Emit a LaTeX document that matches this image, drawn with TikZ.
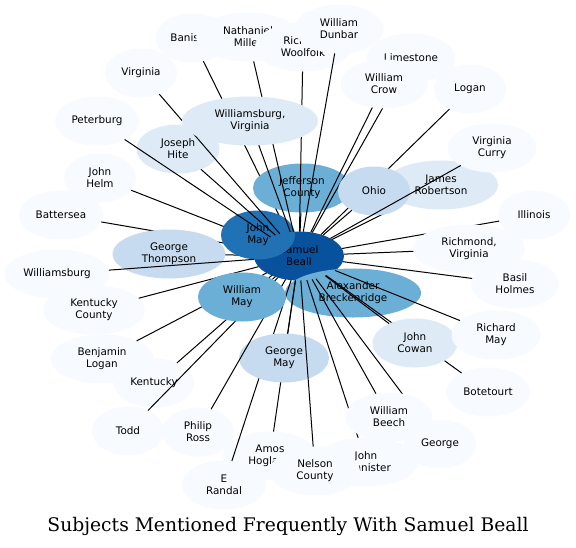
\documentclass[tikz,border=0pt]{standalone}
\usepackage{fontspec}
\usetikzlibrary{shapes.geometric}
\newfontfamily\labfont{DejaVu Sans}
\newfontfamily\ttlfont{DejaVu Serif}
\definecolor{cA}{HTML}{08519C}
\definecolor{cB}{HTML}{2171B5}
\definecolor{cC}{HTML}{6BAED6}
\definecolor{cD}{HTML}{C6DBEF}
\definecolor{cE}{HTML}{DEEBF7}
\definecolor{cF}{HTML}{F7FBFF}
\tikzset{
  ell/.style={ellipse, inner sep=0pt, outer sep=0pt, minimum height=49pt, draw=none,
    font=\labfont\fontsize{10.4}{12}\selectfont, align=center, text=black},
  edge/.style={draw=black, line width=1pt}
}
\begin{document}
\begin{tikzpicture}[x=1pt,y=-1pt]
\useasboundingbox (0,0) rectangle (576,547);
\fill[white] (0,0) rectangle (576,547);
% centre node
\node[ell, fill=cA, minimum width=90pt] (beall) at (299,256) {Samuel\\Beall};
% nodes in drawing order, each followed by its connector
\node[ell, fill=cC, minimum width=136pt] (breck) at (353,293) {Alexander\\Breckenridge};
\node[ell, fill=cF, minimum width=94pt] (amos) at (270,456) {Amos\\Hogland};
\draw[edge] (beall) -- (amos);
\node[ell, fill=cF, minimum width=73pt] (banister) at (192,38) {Banister};
\draw[edge] (beall) -- (banister);
\node[ell, fill=cF, minimum width=88pt] (basil) at (515,284) {Basil\\Holmes};
\draw[edge] (beall) -- (basil);
\node[ell, fill=cF, minimum width=84pt] (battersea) at (61,215) {Battersea};
\draw[edge] (beall) -- (battersea);
\node[ell, fill=cF, minimum width=103pt] (benjamin) at (102,359) {Benjamin\\Logan};
\draw[edge] (beall) -- (benjamin);
\node[ell, fill=cF, minimum width=84pt] (botetourt) at (488,392) {Botetourt};
\draw[edge] (beall) -- (botetourt);
\node[ell, fill=cF, minimum width=84pt] (erandal) at (224,485) {E\\Randal};
\draw[edge] (beall) -- (erandal);
\node[ell, fill=cF, minimum width=72pt] (george) at (440,444) {George};
\draw[edge] (beall) -- (george);
\node[ell, fill=cD, minimum width=90pt] (georgemay) at (284,358) {George\\May};
\draw[edge] (beall) -- (georgemay);
\node[ell, fill=cD, minimum width=113pt] (thompson) at (169,254) {George\\Thompson};
\draw[edge] (beall) -- (thompson);
\node[ell, fill=cF, minimum width=72pt] (illinois) at (534,215) {Illinois};
\draw[edge] (beall) -- (illinois);
\node[ell, fill=cE, minimum width=114pt] (robertson) at (441,185) {James\\Robertson};
\draw[edge] (beall) -- (robertson);
\node[ell, fill=cC, minimum width=98pt] (jefferson) at (302,188) {Jefferson\\County};
\draw[edge] (beall) -- (jefferson);
\node[ell, fill=cF, minimum width=104pt] (bannister) at (366,462) {John\\Bannister};
\draw[edge] (beall) -- (bannister);
\node[ell, fill=cE, minimum width=85pt] (cowan) at (415,343) {John\\Cowan};
\draw[edge] (beall) -- (cowan);
\node[ell, fill=cF, minimum width=72pt] (helm) at (100,178) {John\\Helm};
\draw[edge] (beall) -- (helm);
\node[ell, fill=cB, minimum width=74pt] (johnmay) at (258,235) {John\\May};
\node[ell, fill=cE, minimum width=83pt] (hite) at (178,149) {Joseph\\Hite};
\draw[edge] (beall) -- (hite);
\node[ell, fill=cF, minimum width=80pt] (kentucky) at (154,383) {Kentucky};
\draw[edge] (beall) -- (kentucky);
\node[ell, fill=cF, minimum width=102pt] (kycounty) at (94,310) {Kentucky\\County};
\draw[edge] (beall) -- (kycounty);
\node[ell, fill=cF, minimum width=89pt] (limestone) at (411,58) {Limestone};
\draw[edge] (beall) -- (limestone);
\node[ell, fill=cF, minimum width=72pt] (logan) at (470,89) {Logan};
\draw[edge] (beall) -- (logan);
\node[ell, fill=cF, minimum width=104pt] (nathaniel) at (248,37) {Nathaniel\\Miller};
\draw[edge] (beall) -- (nathaniel);
\node[ell, fill=cF, minimum width=90pt] (nelson) at (315,471) {Nelson\\County};
\draw[edge] (beall) -- (nelson);
\node[ell, fill=cD, minimum width=72pt] (ohio) at (374,191) {Ohio};
\draw[edge] (beall) -- (ohio);
\node[ell, fill=cF, minimum width=84pt] (peterburg) at (97,121) {Peterburg};
\draw[edge] (beall) -- (peterburg);
\node[ell, fill=cF, minimum width=72pt] (philip) at (198,432) {Philip\\Ross};
\draw[edge] (beall) -- (philip);
\node[ell, fill=cF, minimum width=89pt] (richardmay) at (496,335) {Richard\\May};
\draw[edge] (beall) -- (richardmay);
\node[ell, fill=cF, minimum width=96pt] (woolfolk) at (303,47) {Richard\\Woolfolk};
\draw[edge] (beall) -- (woolfolk);
\node[ell, fill=cF, minimum width=112pt] (richmond) at (469,249) {Richmond,\\Virginia};
\draw[edge] (beall) -- (richmond);
\node[ell, fill=cF, minimum width=72pt] (todd) at (128,431) {Todd};
\draw[edge] (beall) -- (todd);
\node[ell, fill=cF, minimum width=72pt] (virginia) at (141,73) {Virginia};
\draw[edge] (beall) -- (virginia);
\node[ell, fill=cF, minimum width=89pt] (curry) at (492,148) {Virginia\\Curry};
\draw[edge] (beall) -- (curry);
\node[ell, fill=cF, minimum width=87pt] (beech) at (389,417) {William\\Beech};
\draw[edge] (beall) -- (beech);
\node[ell, fill=cF, minimum width=87pt] (crow) at (384,84) {William\\Crow};
\draw[edge] (beall) -- (crow);
\node[ell, fill=cF, minimum width=89pt] (dunbar) at (339,29) {William\\Dunbar};
\draw[edge] (beall) -- (dunbar);
\node[ell, fill=cC, minimum width=88pt] (williammay) at (242,297) {William\\May};
\draw[edge] (beall) -- (williammay);
\node[ell, fill=cF, minimum width=105pt] (williamsburg) at (57,274) {Williamsburg};
\draw[edge] (beall) -- (williamsburg);
\node[ell, fill=cE, minimum width=136pt] (wbva) at (250,121) {Williamsburg,\\Virginia};
\draw[edge] (beall) -- (wbva);
% title
\node[anchor=base, inner sep=0pt] (title) at (288,531.5) {\resizebox{481pt}{!}{\ttlfont\fontsize{17}{20}\selectfont Subjects Mentioned Frequently With Samuel Beall}};
\end{tikzpicture}
\end{document}
